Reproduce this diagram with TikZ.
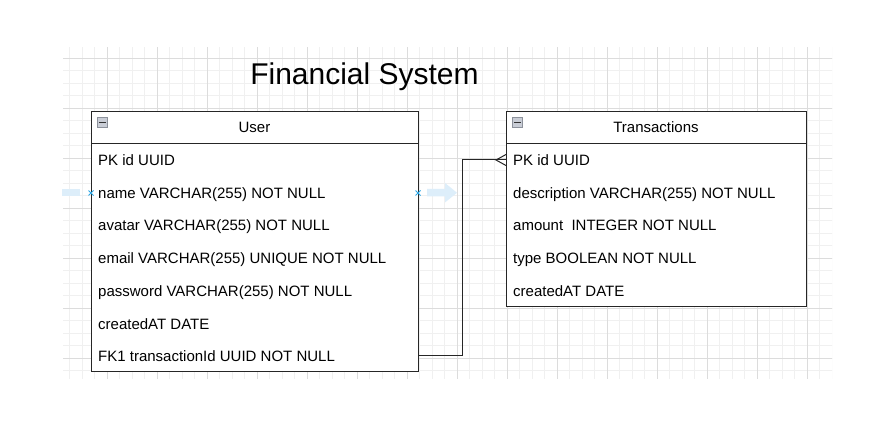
\documentclass[tikz,border=0pt]{standalone}
\usepackage{fontspec}
\setmainfont{Liberation Sans}
\definecolor{gridminor}{HTML}{F0F0F0}
\definecolor{gridmajor}{HTML}{DCDCDC}
\definecolor{hoverblue}{HTML}{DDEEFA}
\definecolor{markblue}{HTML}{2EA8E6}
\definecolor{iconfill}{HTML}{C9CDD6}
\definecolor{iconedge}{HTML}{8C919B}
\tikzset{
  entity/.style={draw=black!85, line width=1pt, rectangle, inner sep=0pt, anchor=north west},
  headbox/.style={draw=black!85, line width=1pt, rectangle, inner sep=0pt, anchor=north west, minimum height=32pt},
  rowtext/.style={anchor=base west, inner sep=0pt, font=\fontsize{15}{18}\selectfont, text=black},
  headtext/.style={anchor=base, inner sep=0pt, font=\fontsize{15}{18}\selectfont, text=black},
  minusicon/.style={draw=iconedge, fill=iconfill, line width=0.8pt, rectangle, minimum width=10pt, minimum height=10pt, inner sep=0pt, anchor=north west},
  conn/.style={draw=black!85, line width=1pt},
  bluex/.style={draw=markblue, line width=1pt},
}
\begin{document}
\begin{tikzpicture}[x=1pt,y=-1pt]
\useasboundingbox (0,0) rectangle (873,422);
\fill[white] (0,0) rectangle (873,422);
% grid
\begin{scope}
\clip (63,48) rectangle (832,378);
\foreach \i in {0,...,62} \draw[gridminor, line width=0.8pt] ({57+12.5*\i},40) -- ({57+12.5*\i},390);
\foreach \j in {0,...,27} \draw[gridminor, line width=0.8pt] (55,{45.5+12.5*\j}) -- (840,{45.5+12.5*\j});
\foreach \i in {0,...,15} \draw[gridmajor, line width=0.9pt] ({57+50*\i},40) -- ({57+50*\i},390);
\foreach \j in {0,...,6} \draw[gridmajor, line width=0.9pt] (55,{58+50*\j}) -- (840,{58+50*\j});
\end{scope}
% title
\node[anchor=base, inner sep=0pt, font=\fontsize{30}{36}\selectfont] (title) at (364.5,85) {Financial System};
% User entity
\node[entity, fill=white, minimum width=327pt, minimum height=260pt] (user) at (91,111) {};
\node[headbox, minimum width=327pt] (userhead) at (91,111) {};
\node[headtext] (usertitle) at (254.5,133) {User};
\node[minusicon] (usericon) at (97,117) {};
\draw[black!80, line width=1.2pt] (usericon.center) ++(-3.5,0) -- ++(7,0);
\node[rowtext] (upk) at (98,165.5) {PK id UUID};
\node[rowtext] (uname) at (98,198.5) {name VARCHAR(255) NOT NULL};
\node[rowtext] (uavatar) at (98,231) {avatar VARCHAR(255) NOT NULL};
\node[rowtext] (uemail) at (98,263.5) {email VARCHAR(255) UNIQUE NOT NULL};
\node[rowtext] (upass) at (98,296.5) {password VARCHAR(255) NOT NULL};
\node[rowtext] (ucreated) at (98,329) {createdAT DATE};
\node[rowtext] (ufk) at (98,361.5) {FK1 transactionId UUID NOT NULL};
% Transactions entity
\node[entity, fill=white, minimum width=300pt, minimum height=195pt] (trans) at (506,111) {};
\node[headbox, minimum width=300pt] (transhead) at (506,111) {};
\node[headtext] (transtitle) at (656,133) {Transactions};
\node[minusicon] (transicon) at (512,117) {};
\draw[black!80, line width=1.2pt] (transicon.center) ++(-3.5,0) -- ++(7,0);
\node[rowtext] (tpk) at (513,165.5) {PK id UUID};
\node[rowtext] (tdesc) at (513,198.5) {description VARCHAR(255) NOT NULL};
\node[rowtext] (tamount) at (513,231) {amount\ \ INTEGER NOT NULL};
\node[rowtext] (ttype) at (513,263.5) {type BOOLEAN NOT NULL};
\node[rowtext] (tcreated) at (513,296.5) {createdAT DATE};
% connector
\coordinate (cstart) at (418,355.5);
\coordinate (cend) at (506,160);
\draw[conn] (cstart) -- (462,355.5) |- (cend);
\draw[conn] (cend) ++(0,-5.5) -- ++(-10,5.5) -- ++(10,5.5);
% hover artifacts
\fill[hoverblue] (62,189) rectangle (80,196.5);
\fill[hoverblue] (427,189) -- (445,189) -- (445,183) -- (457,192.75) -- (445,202.5) -- (445,196.5) -- (427,196.5) -- cycle;
\coordinate (xl) at (91,193);
\coordinate (xr) at (418,193);
\draw[bluex] (xl) ++(-2.5,-2.5) -- ++(5,5) ++(0,-5) -- ++(-5,5);
\draw[bluex] (xr) ++(-2.5,-2.5) -- ++(5,5) ++(0,-5) -- ++(-5,5);
\end{tikzpicture}
\end{document}
